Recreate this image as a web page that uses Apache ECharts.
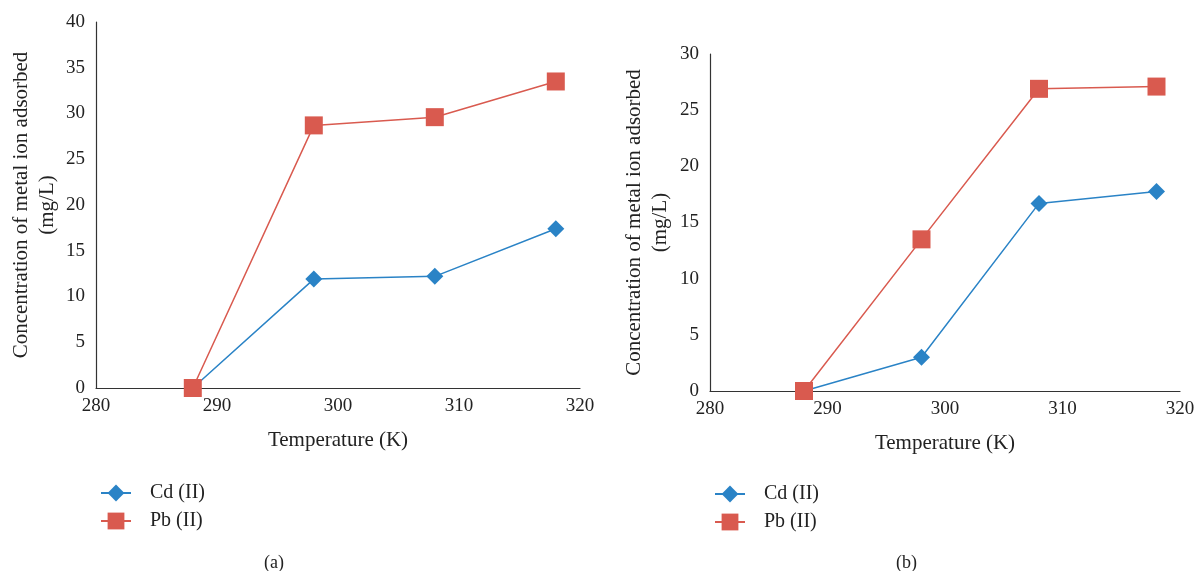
<!DOCTYPE html>
<html><head><meta charset="utf-8">
<script src="https://cdn.jsdelivr.net/npm/echarts@6/dist/echarts.min.js"></script>
<style>html,body{margin:0;padding:0;background:#fff}#c{width:1197px;height:571px}</style>
</head><body><div id="c"></div>
<script>
const temps = [288, 298, 308, 318];
const cdA = [0, 11.9, 12.2, 17.4];
const pbA = [0, 28.7, 29.6, 33.5];
const cdB = [0, 3.0, 16.7, 17.75];
const pbB = [0, 13.5, 26.9, 27.1];
const seriesNames = ['Cd (II)', 'Pb (II)'];
const panelLabels = ['(a)', '(b)'];
const xTitle = 'Temperature (K)';
const yTitle = 'Concentration of metal ion adsorbed\n(mg/L)';

const FONT = 'Liberation Serif';
const BLUE = '#2a83c6', RED = '#d95a4f';
const pair = (xs, ys) => xs.map((x, i) => [x, ys[i]]);

function xAxis(gi) {
  return {gridIndex: gi, type: 'value', min: 280, max: 320, interval: 10,
    name: xTitle, nameLocation: 'middle', nameGap: 42,
    nameTextStyle: {fontFamily: FONT, fontSize: 21, color: '#222'},
    axisLine: {lineStyle: {color: '#333', width: 1.2}}, axisTick: {show: false},
    axisLabel: {fontFamily: FONT, fontSize: 19, color: '#222', margin: 9},
    splitLine: {show: false}};
}
function yAxis(gi, max, gap) {
  return {gridIndex: gi, type: 'value', min: 0, max: max, interval: 5,
    name: yTitle, nameLocation: 'middle', nameGap: gap, nameRotate: 90,
    nameTextStyle: {fontFamily: FONT, fontSize: 21, color: '#222', lineHeight: 26},
    axisLine: {show: true, lineStyle: {color: '#333', width: 1.2}}, axisTick: {show: false},
    axisLabel: {fontFamily: FONT, fontSize: 19, color: '#222', margin: 11},
    splitLine: {show: false}};
}
function line(name, data, gi, color, sym, size) {
  return {name: name, type: 'line', xAxisIndex: gi, yAxisIndex: gi, data: data,
    symbol: sym, symbolSize: size, lineStyle: {color: color, width: 1.5},
    itemStyle: {color: color}, z: name === seriesNames[1] ? 3 : 2};
}
function legend(left, top) {
  return {left: left, top: top, orient: 'vertical', itemWidth: 30, itemHeight: 21, itemGap: 8,
    data: seriesNames, textStyle: {fontFamily: FONT, fontSize: 20, color: '#222', padding: [0, 0, 0, 14]}};
}

const chart = echarts.init(document.getElementById('c'), null, {renderer: 'canvas'});
chart.setOption({
  animation: false,
  grid: [
    {left: 96, right: 617, top: 22, bottom: 183, outerBoundsMode: 'none', containLabel: false},
    {left: 710, right: 17, top: 54, bottom: 180, outerBoundsMode: 'none', containLabel: false}
  ],
  xAxis: [xAxis(0), xAxis(1)],
  yAxis: [yAxis(0, 40, 36), yAxis(1, 30, 37)],
  legend: [legend(95, 478), legend(709, 479)],
  title: [
    {text: panelLabels[0], left: 259, top: 549, textStyle: {fontFamily: FONT, fontSize: 18, fontWeight: 'normal', color: '#222'}},
    {text: panelLabels[1], left: 891, top: 549, textStyle: {fontFamily: FONT, fontSize: 18, fontWeight: 'normal', color: '#222'}}
  ],
  series: [
    line(seriesNames[0], pair(temps, cdA), 0, BLUE, 'diamond', 17),
    line(seriesNames[1], pair(temps, pbA), 0, RED, 'rect', 18),
    line(seriesNames[0], pair(temps, cdB), 1, BLUE, 'diamond', 17),
    line(seriesNames[1], pair(temps, pbB), 1, RED, 'rect', 18)
  ]
});
</script></body></html>
